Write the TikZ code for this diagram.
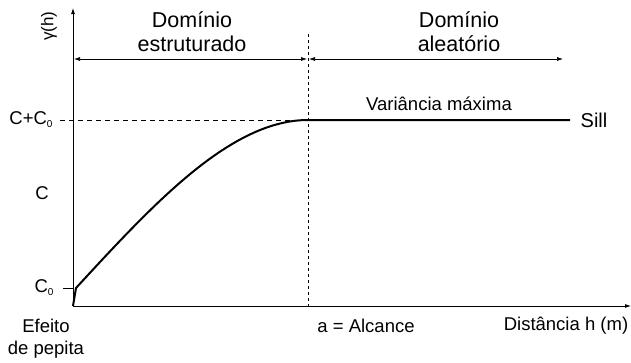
\documentclass[tikz,border=0pt]{standalone}
\usepackage{fontspec}
\setmainfont{Liberation Sans}
\usetikzlibrary{arrows.meta}
\newcommand{\subz}{\raisebox{-3pt}{\fontsize{10}{10}\selectfont 0}}
\begin{document}
\begin{tikzpicture}[x=1pt,y=-1pt,
  tip/.style={-{Latex[length=6pt,width=4pt]}},
  dtip/.style={{Latex[length=6pt,width=4pt]}-{Latex[length=6pt,width=4pt]}},
  big/.style={font=\fontsize{21.5}{24}\selectfont, inner sep=0pt, align=center},
  lab/.style={font=\fontsize{18.5}{22}\selectfont, inner sep=0pt, align=center}]
\useasboundingbox (0,0) rectangle (631,362);
% axes
\coordinate (O) at (73,306);
\coordinate (ytop) at (73,8);
\coordinate (xend) at (631,306);
\draw[line width=0.8pt, tip] (O) -- (ytop);
\draw[line width=0.8pt, tip] (O) -- (xend);
% dashed guides
\coordinate (s0) at (60,120);
\coordinate (s1) at (308,120);
\coordinate (atop) at (308,34);
\coordinate (abot) at (308,306);
\draw[line width=0.6pt, dash pattern=on 5pt off 4pt] (s0) -- (s1);
\draw[line width=0.6pt, dash pattern=on 3pt off 3pt] (atop) -- (abot);
% ticks
\coordinate (c0a) at (63,288);
\coordinate (c0b) at (73,288);
\draw[line width=0.6pt] (c0a) -- (c0b);
% domain arrows
\coordinate (d1) at (74,59);
\coordinate (d2) at (307,59);
\coordinate (d3) at (309,59);
\coordinate (d4) at (563,59);
\draw[line width=0.6pt, dtip] (d1) -- (d2);
\draw[line width=0.6pt, dtip] (d3) -- (d4);
% curve
\coordinate (n0) at (76,288);
\coordinate (sillend) at (570,120);
\draw[line width=2pt] (O) -- (n0)
  -- plot[domain=0:1, samples=60, variable=\t] ({76+232*\t},{288-168*(1.5*\t-0.5*\t*\t*\t)})
  -- (sillend);
% labels
\node[lab, font=\fontsize{17}{20}\selectfont, rotate=90] (gam) at (49,26) {γ(h)};
\node[lab] (cc0) at (31,120) {C+C\subz};
\node[lab] (cl) at (42,193) {C};
\node[lab] (c0) at (44,288) {C\subz};
\node[lab] (ef) at (46,339) {Efeito\\de pepita};
\node[lab] (alc) at (366,326) {a = Alcance};
\node[lab] (dist) at (566,326) {Distância h (m)};
\node[big] (de) at (192,32) {Domínio\\estruturado};
\node[big] (da) at (459,32) {Domínio\\aleatório};
\node[lab] (vm) at (439,104) {Variância máxima};
\node[lab, font=\fontsize{20}{24}\selectfont] (sill) at (594,120) {Sill};
\end{tikzpicture}
\end{document}
